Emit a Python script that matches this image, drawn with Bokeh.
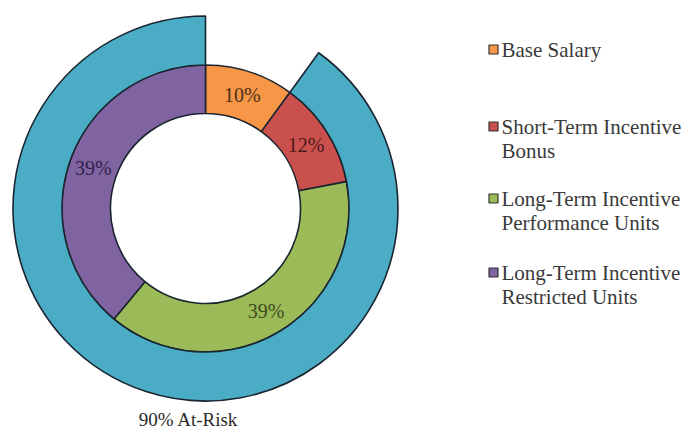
import math
from bokeh.plotting import figure
from bokeh.models import Range1d, ColumnDataSource
from bokeh.core.properties import value
from bokeh.embed import file_html
from bokeh.resources import INLINE

# ---- data ----
categories = ["Base Salary", "Short-Term Incentive\nBonus",
              "Long-Term Incentive\nPerformance Units", "Long-Term Incentive\nRestricted Units"]
values = [10, 12, 39, 39]
at_risk_label = "90% At-Risk"
at_risk_value = 90

# ---- styles ----
colors = ["#F79646", "#C9504D", "#9BBB59", "#8064A2"]
label_colors = ["#4a3018", "#4d1a1a", "#3c4a1c", "#2e2248"]
outer_color = "#4BACC6"
edge = "#1a2530"
W, H = 689, 432
cx, cy = 205, H - 208
r_hole, r_mid, r_out = 95, 143.5, 192.5
serif = value("Liberation Serif")

p = figure(width=W, height=H, output_backend="svg", toolbar_location=None,
           x_range=Range1d(0, W), y_range=Range1d(0, H), min_border=0)
p.axis.visible = False
p.grid.visible = False
p.outline_line_color = None
p.background_fill_color = "white"

total = sum(values)
starts, ends, cum = [], [], 0
for v in values:
    starts.append(cum / total)
    cum += v
    ends.append(cum / total)

# inner ring (clockwise from 12 o'clock)
src = ColumnDataSource(dict(
    x=[cx] * len(values), y=[cy] * len(values),
    start=[math.pi / 2 - 2 * math.pi * e for e in ends],
    end=[math.pi / 2 - 2 * math.pi * s for s in starts],
    color=colors))
p.annular_wedge(x="x", y="y", inner_radius=r_hole, outer_radius=r_mid,
                start_angle="start", end_angle="end", fill_color="color",
                line_color=edge, line_width=1.6, source=src)

# outer ring: at-risk share, ending at 12 o'clock
frac = at_risk_value / 100.0
p.annular_wedge(x=[cx], y=[cy], inner_radius=r_mid, outer_radius=r_out,
                start_angle=math.pi / 2 - 2 * math.pi,
                end_angle=math.pi / 2 - 2 * math.pi * (1 - frac),
                fill_color=outer_color, line_color=edge, line_width=1.6)

# percentage labels at mid-angle of each segment
r_lab = (r_hole + r_mid) / 2
lx, ly, lt = [], [], []
for s, e, v in zip(starts, ends, values):
    a = math.pi / 2 - 2 * math.pi * (s + e) / 2
    lx.append(cx + r_lab * math.cos(a))
    ly.append(cy + r_lab * math.sin(a))
    lt.append(f"{v}%")
p.text(x=lx, y=ly, text=lt, text_color=label_colors, text_font=serif,
       text_font_size="20px", text_align="center", text_baseline="middle")

# at-risk caption
p.text(x=[188], y=[H - 419], text=[at_risk_label], text_color="#2a2a2a",
       text_font=serif, text_font_size="19px", text_align="center",
       text_baseline="middle")

# legend
legend_rows = [49, 126, 198, 272]
line_gap = 24
sq_x, txt_x = 493, 501
p.rect(x=[sq_x] * 4, y=[H - r for r in legend_rows], width=9, height=9,
       width_units="screen", height_units="screen", fill_color=colors,
       line_color="#333333", line_width=1.2)
tx, ty, tt = [], [], []
for row, cat in zip(legend_rows, categories):
    for i, line in enumerate(cat.split("\n")):
        tx.append(txt_x)
        ty.append(H - (row + i * line_gap))
        tt.append(line)
p.text(x=tx, y=ty, text=tt, text_color="#3a3a3a", text_font=serif,
       text_font_size="21px", text_align="left", text_baseline="middle")

open("out.html", "w").write(file_html(p, INLINE))
